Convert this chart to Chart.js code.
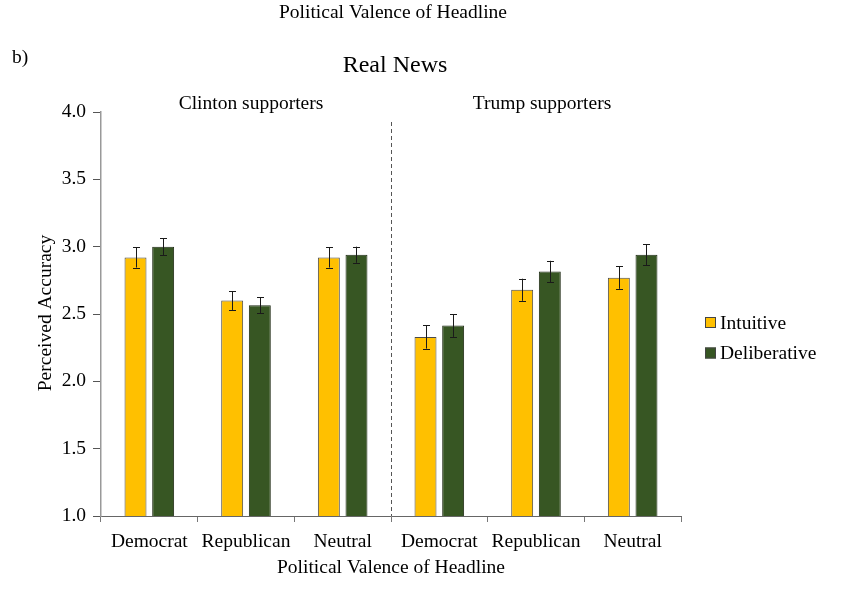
<!DOCTYPE html>
<html>
<head>
<meta charset="utf-8">
<script src="https://cdn.jsdelivr.net/npm/chart.js@4/dist/chart.umd.min.js"></script>
<style>
html,body{margin:0;padding:0;background:#fff;}
#wrap{width:851px;height:589px;position:relative;}
</style>
</head>
<body>
<div id="wrap"><canvas id="c" width="851" height="589"></canvas></div>
<script>
const categories = ['Democrat', 'Republican', 'Neutral', 'Democrat', 'Republican', 'Neutral'];
const groupLabels = ['Clinton supporters', 'Trump supporters'];
const seriesNames = ['Intuitive', 'Deliberative'];
const intuitive = [2.92, 2.60, 2.92, 2.33, 2.68, 2.77];
const deliberative = [3.00, 2.565, 2.94, 2.415, 2.815, 2.94];
const intuitiveErr = [0.075, 0.070, 0.075, 0.087, 0.082, 0.083];
const deliberativeErr = [0.063, 0.058, 0.060, 0.085, 0.080, 0.077];
const yTickLabels = ['1.0', '1.5', '2.0', '2.5', '3.0', '3.5', '4.0'];

const FONT = "'Liberation Serif', 'Times New Roman', serif";
const colors = ['#FFC000', '#375623'];

const errorBars = {
  id: 'errorBars',
  afterDatasetsDraw(chart) {
    const ctx = chart.ctx;
    const errs = [intuitiveErr, deliberativeErr];
    const y = chart.scales.y;
    ctx.save();
    ctx.strokeStyle = '#1a1a1a';
    ctx.lineWidth = 1;
    chart.data.datasets.forEach((ds, di) => {
      const meta = chart.getDatasetMeta(di);
      meta.data.forEach((bar, i) => {
        const v = ds.data[i], e = errs[di][i];
        const x = Math.round(bar.x) + 0.5;
        const yt = y.getPixelForValue(v + e), yb = y.getPixelForValue(v - e);
        ctx.beginPath();
        ctx.moveTo(x, yt); ctx.lineTo(x, yb);
        ctx.moveTo(x - 3.5, Math.round(yt) + 0.5); ctx.lineTo(x + 3.5, Math.round(yt) + 0.5);
        ctx.moveTo(x - 3.5, Math.round(yb) + 0.5); ctx.lineTo(x + 3.5, Math.round(yb) + 0.5);
        ctx.stroke();
      });
    });
    ctx.restore();
  }
};

const decorations = {
  id: 'decorations',
  afterDraw(chart) {
    const ctx = chart.ctx;
    const xs = chart.scales.x, area = chart.chartArea;
    ctx.save();
    // dashed separator
    const xm = Math.round(xs.getPixelForValue(2.5)) + 0.5;
    ctx.strokeStyle = '#555';
    ctx.lineWidth = 1;
    ctx.setLineDash([4, 3]);
    ctx.beginPath();
    ctx.moveTo(xm, 122); ctx.lineTo(xm, area.bottom);
    ctx.stroke();
    ctx.setLineDash([]);

    ctx.fillStyle = '#000';
    ctx.textBaseline = 'middle';
    ctx.textAlign = 'center';
    ctx.font = '19.5px ' + FONT;
    ctx.fillText('Political Valence of Headline', 393, 13);
    ctx.fillText('Political Valence of Headline', 391, 568);
    ctx.fillText(groupLabels[0], 251, 104);
    ctx.fillText(groupLabels[1], 542, 104);
    ctx.textAlign = 'left';
    ctx.fillText('b)', 12, 58);
    ctx.font = '24px ' + FONT;
    ctx.textAlign = 'center';
    ctx.fillText('Real News', 395, 66);

    // y title
    ctx.font = '19.5px ' + FONT;
    ctx.save();
    ctx.translate(46, 313);
    ctx.rotate(-Math.PI / 2);
    ctx.fillText('Perceived Accuracy', 0, 0);
    ctx.restore();

    // legend
    ctx.textAlign = 'left';
    const ly = [322.5, 353];
    seriesNames.forEach((n, i) => {
      ctx.fillStyle = colors[i];
      ctx.fillRect(705, ly[i] - 5.5, 11, 11);
      ctx.strokeStyle = '#444';
      ctx.strokeRect(705.5, ly[i] - 5, 10, 10);
      ctx.fillStyle = '#000';
      ctx.fillText(n, 720, ly[i] + 1);
    });
    ctx.restore();
  }
};

new Chart(document.getElementById('c'), {
  type: 'bar',
  data: {
    labels: categories,
    datasets: [
      { label: seriesNames[0], data: intuitive, backgroundColor: colors[0], borderColor: '#4a4a4a', borderWidth: 1 },
      { label: seriesNames[1], data: deliberative, backgroundColor: colors[1], borderColor: '#1e2a14', borderWidth: 1 }
    ]
  },
  options: {
    responsive: false,
    animation: false,
    devicePixelRatio: 1,
    layout: { padding: { left: 0, top: 112, right: 170, bottom: 0 } },
    datasets: { bar: { categoryPercentage: 0.572, barPercentage: 0.794 } },
    plugins: { legend: { display: false }, title: { display: false }, tooltip: { enabled: false } },
    scales: {
      x: {
        afterFit(s) { s.height = 73; },
        grid: { offset: true, drawOnChartArea: false, tickLength: 6, color: '#777' },
        border: { color: '#666', width: 1 },
        ticks: { color: '#000', font: { family: FONT, size: 19.5 }, padding: 8, maxRotation: 0, autoSkip: false }
      },
      y: {
        min: 1, max: 4,
        afterFit(s) { s.width = 101; },
        grid: { drawOnChartArea: false, tickLength: 8, color: '#555' },
        border: { color: '#999', width: 1.5 },
        ticks: {
          stepSize: 0.5, color: '#000', padding: 7,
          font: { family: FONT, size: 19.5 },
          callback: (v) => yTickLabels[Math.round((v - 1) * 2)]
        }
      }
    }
  },
  plugins: [errorBars, decorations]
});
</script>
</body>
</html>
